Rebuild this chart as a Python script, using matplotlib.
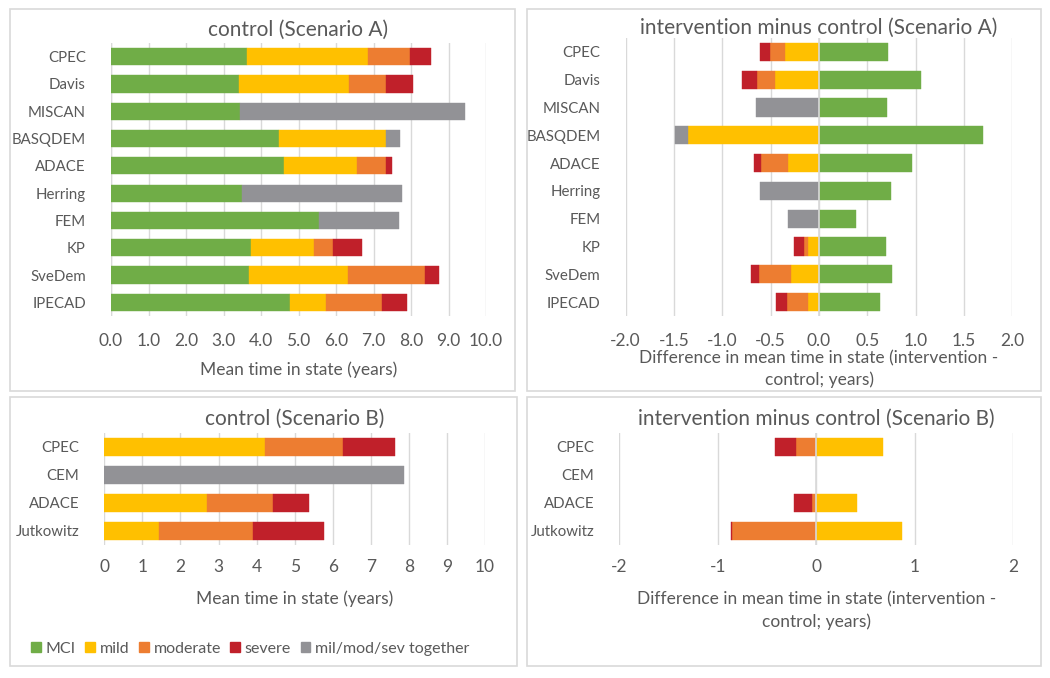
import matplotlib
matplotlib.use("Agg")
import matplotlib.pyplot as plt
from matplotlib.patches import Rectangle, Patch
from matplotlib.ticker import FormatStrFormatter, MultipleLocator
import numpy as np

plt.rcParams['font.family'] = ['Lato', 'DejaVu Sans']

# ---------------- data ----------------
models_A = ['CPEC', 'Davis', 'MISCAN', 'BASQDEM', 'ADACE', 'Herring', 'FEM', 'KP', 'SveDem', 'IPECAD']
ctrlA_mci  = [3.63, 3.40, 3.45, 4.47, 4.61, 3.49, 5.55, 3.72, 3.69, 4.77]
ctrlA_mild = [3.22, 2.95, 0.00, 2.86, 1.95, 0.00, 0.00, 1.68, 2.64, 0.96]
ctrlA_mod  = [1.13, 0.99, 0.00, 0.00, 0.77, 0.00, 0.00, 0.53, 2.03, 1.50]
ctrlA_sev  = [0.54, 0.72, 0.00, 0.00, 0.16, 0.00, 0.00, 0.75, 0.39, 0.65]
ctrlA_all  = [0.00, 0.00, 6.00, 0.38, 0.00, 4.26, 2.14, 0.00, 0.00, 0.00]

diffA_mci  = [0.71, 1.05, 0.70, 1.70, 0.96, 0.74, 0.38, 0.69, 0.75, 0.63]
diffA_mild = [-0.35, -0.46, 0.00, -1.36, -0.32, 0.00, 0.00, -0.11, -0.29, -0.11]
diffA_mod  = [-0.16, -0.18, 0.00, 0.00, -0.28, 0.00, 0.00, -0.05, -0.33, -0.22]
diffA_sev  = [-0.10, -0.16, 0.00, 0.00, -0.07, 0.00, 0.00, -0.10, -0.08, -0.12]
diffA_all  = [0.00, 0.00, -0.65, -0.13, 0.00, -0.61, -0.32, 0.00, 0.00, 0.00]

models_B = ['CPEC', 'CEM', 'ADACE', 'Jutkowitz']
ctrlB_mci  = [0.00, 0.00, 0.00, 0.00]
ctrlB_mild = [4.22, 0.00, 2.71, 1.44]
ctrlB_mod  = [2.05, 0.00, 1.72, 2.47]
ctrlB_sev  = [1.36, 0.00, 0.95, 1.86]
ctrlB_all  = [0.00, 7.87, 0.00, 0.00]

diffB_mci  = [0.00, 0.00, 0.00, 0.00]
diffB_mild = [0.68, 0.00, 0.41, 0.87]
diffB_mod  = [-0.20, 0.00, -0.04, -0.86]
diffB_sev  = [-0.22, 0.00, -0.19, -0.01]
diffB_all  = [0.00, 0.00, 0.00, 0.00]

series_names = ['MCI', 'mild', 'moderate', 'severe', 'mil/mod/sev together']
colors = ['#70AD47', '#FFC000', '#ED7D31', '#C0202A', '#929296']

TXT = '#595959'
GRID = '#D9D9D9'
FS = 12.5
FSY = 10.8

W, H = 1050, 678
fig = plt.figure(figsize=(W / 100, H / 100), dpi=100)


def px_axes(left, right, top, bottom):
    return fig.add_axes([left / W, 1 - bottom / H, (right - left) / W, (bottom - top) / H])


def panel_box(left, right, top, bottom):
    fig.patches.append(Rectangle((left / W, 1 - bottom / H), (right - left) / W, (bottom - top) / H,
                                 transform=fig.transFigure, fill=False, edgecolor=GRID, lw=1.2))


def stacked(ax, cats, series, height):
    y = np.arange(len(cats))
    pos = np.zeros(len(cats))
    neg = np.zeros(len(cats))
    for vals, col in zip(series, colors):
        v = np.array(vals, dtype=float)
        left = np.where(v >= 0, pos, neg)
        m = v != 0
        if m.any():
            ax.barh(y[m], v[m], left=left[m], height=height, color=col, edgecolor=col, lw=0.3, zorder=2)
        pos += np.where(v > 0, v, 0)
        neg += np.where(v < 0, v, 0)
    ax.set_yticks(y)
    ax.set_yticklabels(cats)
    ax.set_ylim(len(cats) - 0.5, -0.5)


def style(ax, xmin, xmax, step, fmt, title, title_y):
    ax.set_xlim(xmin, xmax)
    ax.xaxis.set_major_locator(MultipleLocator(step))
    ax.xaxis.set_major_formatter(FormatStrFormatter(fmt))
    ax.grid(axis='x', color=GRID, lw=1, zorder=0)
    ax.set_axisbelow(True)
    for s in ax.spines.values():
        s.set_visible(False)
    ax.tick_params(length=0, colors=TXT)
    ax.tick_params(axis='x', labelsize=FS)
    ax.tick_params(axis='y', labelsize=FSY, pad=18)
    ax.set_title(title, color=TXT, fontsize=15, pad=0, y=title_y)


# panel borders
panel_box(10, 515, 9, 391)
panel_box(527, 1041, 9, 391)
panel_box(10, 517, 397, 666)
panel_box(527, 1041, 397, 666)

# top-left
ax1 = px_axes(111, 486, 43, 316)
stacked(ax1, models_A, [ctrlA_mci, ctrlA_mild, ctrlA_mod, ctrlA_sev, ctrlA_all], 0.63)
style(ax1, 0, 10, 1, '%.1f', 'control (Scenario A)', 1.025)
ax1.axvline(0, color=GRID, lw=1, zorder=1)
ax1.tick_params(axis='x', pad=12)
ax1.set_xlabel('Mean time in state (years)', color=TXT, fontsize=FS, labelpad=9)

# top-right
ax2 = px_axes(625.6, 1012.5, 38, 316)
stacked(ax2, models_A, [diffA_mci, diffA_mild, diffA_mod, diffA_sev, diffA_all], 0.65)
style(ax2, -2, 2, 0.5, '%.1f', 'intervention minus control (Scenario A)', 1.015)
ax2.axvline(0, color=GRID, lw=1.2, zorder=3)
ax2.tick_params(axis='x', pad=12)
ax2.set_xlabel('Difference in mean time in state (intervention -\ncontrol; years)', color=TXT,
               fontsize=FS, labelpad=1, linespacing=1.4)

# bottom-left
ax3 = px_axes(104.3, 485, 433, 545)
stacked(ax3, models_B, [ctrlB_mci, ctrlB_mild, ctrlB_mod, ctrlB_sev, ctrlB_all], 0.65)
style(ax3, 0, 10, 1, '%d', 'control (Scenario B)', 1.07)
ax3.tick_params(axis='x', pad=10)
ax3.set_xlabel('Mean time in state (years)', color=TXT, fontsize=FS, labelpad=11)

# bottom-right
ax4 = px_axes(619.3, 1013, 433, 545)
stacked(ax4, models_B, [diffB_mci, diffB_mild, diffB_mod, diffB_sev, diffB_all], 0.65)
style(ax4, -2, 2, 1, '%d', 'intervention minus control (Scenario B)', 1.07)
ax4.axvline(0, color=GRID, lw=1.2, zorder=3)
ax4.tick_params(axis='x', pad=10)
ax4.set_xlabel('Difference in mean time in state (intervention -\ncontrol; years)', color=TXT,
               fontsize=FS, labelpad=12, linespacing=1.45)

# legend
handles = [Patch(facecolor=c, edgecolor=c) for c in colors]
fig.legend(handles, series_names, loc='center left', bbox_to_anchor=(17 / W, 1 - 649 / H),
           ncol=5, frameon=False, fontsize=11.5, handlelength=0.6, handleheight=0.6,
           handletextpad=0.3, columnspacing=0.6, labelcolor=TXT)

fig.savefig('out.png', dpi=100)
